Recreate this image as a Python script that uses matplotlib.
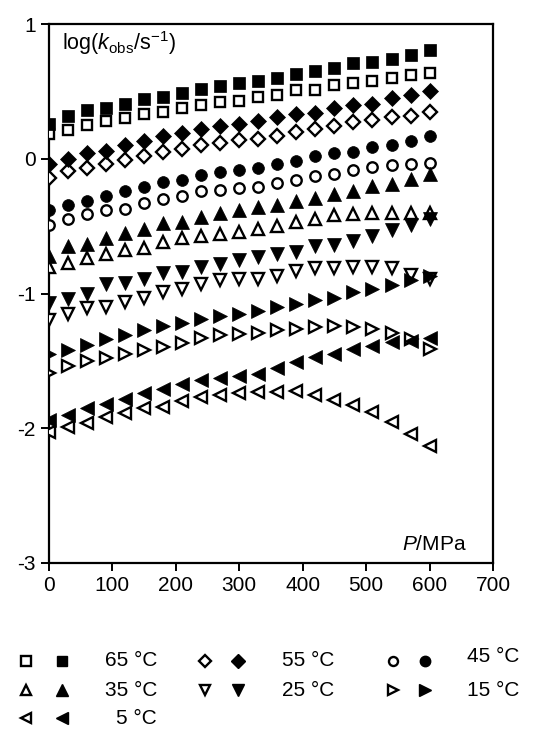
import numpy as np
import matplotlib
matplotlib.use("Agg")
import matplotlib.pyplot as plt

plt.rcParams['font.family'] = ['Liberation Sans', 'DejaVu Sans']
plt.rcParams['axes.unicode_minus'] = False
plt.rcParams['mathtext.fontset'] = 'custom'
plt.rcParams['mathtext.rm'] = 'Liberation Sans'
plt.rcParams['mathtext.it'] = 'Liberation Sans:italic'

# pressure (MPa)
P = np.arange(0, 601, 30)

# log(kobs/s-1), open / filled symbols for each temperature
t65_open = [0.18, 0.21, 0.25, 0.28, 0.30, 0.33, 0.35, 0.38, 0.40, 0.42, 0.43,
            0.46, 0.47, 0.51, 0.51, 0.55, 0.56, 0.58, 0.60, 0.62, 0.64]
t65_fill = [0.26, 0.32, 0.36, 0.38, 0.41, 0.44, 0.46, 0.49, 0.52, 0.54, 0.56,
            0.58, 0.60, 0.63, 0.65, 0.67, 0.71, 0.72, 0.74, 0.77, 0.81]
t55_open = [-0.14, -0.09, -0.07, -0.04, -0.01, 0.02, 0.05, 0.07, 0.10, 0.12, 0.14,
            0.15, 0.17, 0.20, 0.22, 0.24, 0.27, 0.29, 0.31, 0.32, 0.35]
t55_fill = [-0.04, 0.00, 0.04, 0.06, 0.10, 0.13, 0.17, 0.19, 0.22, 0.24, 0.26,
            0.28, 0.31, 0.33, 0.34, 0.38, 0.40, 0.41, 0.45, 0.47, 0.50]
t45_open = [-0.49, -0.45, -0.41, -0.38, -0.37, -0.33, -0.30, -0.28, -0.24, -0.23, -0.22,
            -0.21, -0.18, -0.16, -0.13, -0.11, -0.08, -0.06, -0.05, -0.04, -0.03]
t45_fill = [-0.38, -0.34, -0.31, -0.28, -0.24, -0.21, -0.17, -0.16, -0.12, -0.10, -0.08,
            -0.07, -0.04, -0.02, 0.02, 0.04, 0.05, 0.09, 0.10, 0.13, 0.17]
t35_open = [-0.80, -0.77, -0.74, -0.71, -0.68, -0.66, -0.62, -0.59, -0.57, -0.56, -0.54,
            -0.52, -0.50, -0.47, -0.45, -0.42, -0.41, -0.40, -0.40, -0.40, -0.40]
t35_fill = [-0.72, -0.65, -0.63, -0.59, -0.55, -0.52, -0.48, -0.47, -0.43, -0.40, -0.38,
            -0.36, -0.34, -0.31, -0.29, -0.26, -0.24, -0.20, -0.19, -0.15, -0.11]
t25_open = [-1.20, -1.15, -1.11, -1.10, -1.06, -1.03, -0.99, -0.97, -0.93, -0.90, -0.89,
            -0.89, -0.87, -0.83, -0.81, -0.81, -0.80, -0.80, -0.81, -0.86, -0.89]
t25_fill = [-1.07, -1.04, -1.00, -0.93, -0.92, -0.89, -0.85, -0.84, -0.80, -0.78, -0.75,
            -0.73, -0.71, -0.69, -0.65, -0.64, -0.61, -0.57, -0.53, -0.49, -0.45]
t15_open = [-1.59, -1.54, -1.50, -1.48, -1.45, -1.42, -1.40, -1.37, -1.33, -1.31, -1.30,
            -1.29, -1.27, -1.26, -1.25, -1.24, -1.25, -1.26, -1.29, -1.34, -1.41]
t15_fill = [-1.45, -1.42, -1.38, -1.34, -1.31, -1.27, -1.24, -1.22, -1.19, -1.17, -1.15,
            -1.13, -1.10, -1.08, -1.05, -1.03, -0.99, -0.97, -0.94, -0.90, -0.87]
t5_open = [-2.03, -1.99, -1.96, -1.92, -1.89, -1.85, -1.84, -1.80, -1.77, -1.75, -1.74,
           -1.73, -1.73, -1.72, -1.75, -1.79, -1.83, -1.88, -1.95, -2.04, -2.13]
t5_fill = [-1.94, -1.90, -1.85, -1.82, -1.78, -1.74, -1.71, -1.67, -1.64, -1.63, -1.61,
           -1.60, -1.55, -1.51, -1.47, -1.45, -1.41, -1.39, -1.36, -1.35, -1.33]

labels = ['65 °C', '55 °C', '45 °C', '35 °C', '25 °C', '15 °C', '5 °C']
markers = ['s', 'D', 'o', '^', 'v', '>', '<']
opens = [t65_open, t55_open, t45_open, t35_open, t25_open, t15_open, t5_open]
fills = [t65_fill, t55_fill, t45_fill, t35_fill, t25_fill, t15_fill, t5_fill]
sizes = [8.5, 8, 8.5, 9.5, 9.5, 9.5, 9.5]

fig = plt.figure(figsize=(5.53, 7.32), dpi=100)
ax = fig.add_axes([49/553, 1-563/732, 444/553, 539/732])

for m, yo, yf, s in zip(markers, opens, fills, sizes):
    ax.plot(P, yo, linestyle='none', marker=m, ms=s-1, mfc='white', mec='black', mew=1.7, zorder=3)
    ax.plot(P, yf, linestyle='none', marker=m, ms=s, mfc='black', mec='black', mew=0.5, zorder=3)

ax.set_xlim(0, 700)
ax.set_ylim(-3, 1)
ax.set_xticks(range(0, 701, 100))
ax.set_yticks([-3, -2, -1, 0, 1])
for sp in ax.spines.values():
    sp.set_linewidth(1.6)
ax.tick_params(direction='out', length=6, width=1.4, labelsize=15, top=False, right=False)
ax.text(20, 0.86, r'log($\mathit{k}_{\mathrm{obs}}$/s$^{-1}$)', fontsize=15.5, va='center', ha='left')
ax.text(658, -2.86, r'$\mathit{P}$/MPa', fontsize=15, va='center', ha='right')

# legend drawn in a pixel-coordinate overlay
lg = fig.add_axes([0, 0, 1, 1])
lg.set_xlim(0, 553)
lg.set_ylim(732, 0)
lg.axis('off')
col_open = [26, 205, 393]
col_fill = [62, 238, 425]
col_text = [157, 334, 519]
row_y = [661, 690, 718]
for i, (lab, m, s) in enumerate(zip(labels, markers, sizes)):
    r, c = divmod(i, 3)
    y = row_y[r]
    lg.plot(col_open[c], y, marker=m, ms=s-2, mfc='white', mec='black', mew=1.7, linestyle='none')
    lg.plot(col_fill[c], y, marker=m, ms=s-1, mfc='black', mec='black', linestyle='none')
    dy = -5 if c == 2 and r == 0 else 0
    lg.text(col_text[c], y + dy, lab, fontsize=15, ha='right', va='center')

fig.savefig('out.png', dpi=100)
